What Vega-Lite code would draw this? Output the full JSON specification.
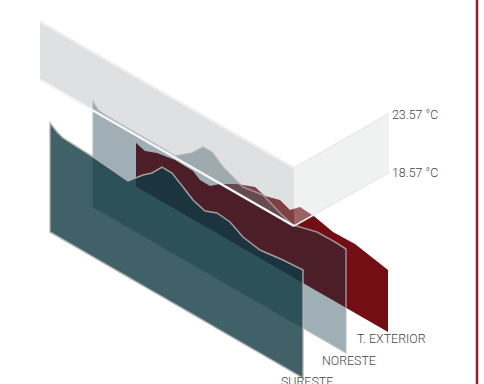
{
"$schema":"https://vega.github.io/schema/vega-lite/v6.json",
"width":484,"height":384,"padding":0,"autosize":{"type":"none"},
"background":"white",
"config":{"view":{"stroke":null}},
"datasets":{
"red":[{"x":136,"top":143,"bottom":186.6},{"x":145,"top":151,"bottom":191.8},{"x":157,"top":153,"bottom":198.7},{"x":175,"top":160,"bottom":209.1},{"x":193,"top":171,"bottom":219.5},{"x":200,"top":180,"bottom":223.5},{"x":210,"top":186,"bottom":229.3},{"x":220,"top":184,"bottom":235.1},{"x":237,"top":184,"bottom":244.9},{"x":255,"top":187,"bottom":255.3},{"x":265,"top":196,"bottom":261},{"x":280,"top":200,"bottom":269.7},{"x":290,"top":210,"bottom":275.4},{"x":300,"top":207,"bottom":281.2},{"x":315,"top":217,"bottom":289.9},{"x":333,"top":232,"bottom":300.2},{"x":355,"top":244,"bottom":313},{"x":388,"top":270,"bottom":332}],
"noreste":[{"x":93,"top":102,"bottom":207},{"x":98,"top":110,"bottom":209.9},{"x":105,"top":115,"bottom":213.9},{"x":120,"top":124,"bottom":222.6},{"x":140,"top":135.5,"bottom":234.1},{"x":160,"top":147,"bottom":245.7},{"x":175,"top":156,"bottom":254.3},{"x":192,"top":153,"bottom":264.1},{"x":203,"top":147,"bottom":270.5},{"x":212,"top":152,"bottom":275.7},{"x":223,"top":167,"bottom":282},{"x":232,"top":176,"bottom":287.2},{"x":243,"top":187,"bottom":293.6},{"x":263,"top":195,"bottom":305.1},{"x":280,"top":213,"bottom":314.9},{"x":293,"top":225,"bottom":322.4},{"x":300,"top":227,"bottom":326.4},{"x":317,"top":232,"bottom":336.2},{"x":335,"top":242,"bottom":346.6},{"x":346,"top":249,"bottom":353}],
"sureste":[{"x":50,"top":123,"bottom":232},{"x":57,"top":132,"bottom":236},{"x":63,"top":138,"bottom":239.5},{"x":93,"top":157,"bottom":256.8},{"x":128,"top":181,"bottom":277},{"x":143,"top":175,"bottom":285.7},{"x":152,"top":173,"bottom":290.9},{"x":162,"top":167,"bottom":296.6},{"x":172,"top":173,"bottom":302.4},{"x":183,"top":187,"bottom":308.7},{"x":193,"top":200,"bottom":314.5},{"x":205,"top":211,"bottom":321.4},{"x":217,"top":213,"bottom":328.4},{"x":230,"top":222,"bottom":335.9},{"x":243,"top":237,"bottom":343.4},{"x":260,"top":250,"bottom":353.2},{"x":283,"top":260,"bottom":366.4},{"x":303,"top":270,"bottom":378}],
"planeLeft":[{"x":40,"top":22,"bottom":80},{"x":294,"top":168,"bottom":226}],
"planeRight":[{"x":294,"top":168,"bottom":226},{"x":389,"top":113.5,"bottom":172.5}],
"labels":[{"x":392,"y":114.5,"label":"23.57 °C"},{"x":392,"y":172.5,"label":"18.57 °C"},{"x":357,"y":339,"label":"T. EXTERIOR"},{"x":322,"y":361,"label":"NORESTE"},{"x":281,"y":382,"label":"SURESTE"}],
"frame":[{"x":477}]
},
"encoding":{
"x":{"field":"x","type":"quantitative","scale":{"domain":[0,484],"nice":false,"zero":false},"axis":null},
"y":{"field":"top","type":"quantitative","scale":{"domain":[384,0],"nice":false,"zero":false},"axis":null}
},
"layer":[
{"data":{"name":"red"},"mark":{"type":"area","color":"#730f14","opacity":1},"encoding":{"y2":{"field":"bottom"}}},
{"data":{"name":"noreste"},"mark":{"type":"area","fill":"#123746","fillOpacity":0.4,"stroke":"#b8bcbe","strokeOpacity":0.7,"strokeWidth":1.5},"encoding":{"y2":{"field":"bottom"}}},
{"data":{"name":"planeLeft"},"mark":{"type":"area","fill":"#9ea0a5","fillOpacity":0.33},"encoding":{"y2":{"field":"bottom"}}},
{"data":{"name":"planeRight"},"mark":{"type":"area","fill":"#dadbdc","fillOpacity":0.4},"encoding":{"y2":{"field":"bottom"}}},
{"data":{"name":"planeLeft"},"mark":{"type":"line","color":"#ededee","strokeWidth":2.5}},
{"data":{"name":"planeRight"},"mark":{"type":"line","color":"#ebebec","strokeWidth":1.5}},
{"data":{"name":"planeRight"},"mark":{"type":"line","color":"#ebebec","strokeWidth":1.5},"encoding":{"y":{"field":"bottom","type":"quantitative"}}},
{"data":{"name":"planeLeft"},"mark":{"type":"line","color":"#f6f6f6","strokeWidth":2.5},"encoding":{"y":{"field":"bottom","type":"quantitative"}}},
{"data":{"name":"sureste"},"mark":{"type":"area","fill":"#103942","fillOpacity":0.8,"stroke":"#b0b2b2","strokeOpacity":0.85,"strokeWidth":1.5},"encoding":{"y2":{"field":"bottom"}}},
{"data":{"name":"frame"},"mark":{"type":"rule","color":"#8f2226","strokeWidth":2.5},"encoding":{"x":{"field":"x","type":"quantitative"},"y":{"value":0},"y2":{"value":384}}},
{"data":{"name":"labels"},"mark":{"type":"text","align":"left","baseline":"middle","font":"Roboto","fontWeight":300,"fontSize":12.4,"color":"#444444"},"encoding":{"x":{"field":"x","type":"quantitative"},"y":{"field":"y","type":"quantitative"},"text":{"field":"label"}}}
]
}
